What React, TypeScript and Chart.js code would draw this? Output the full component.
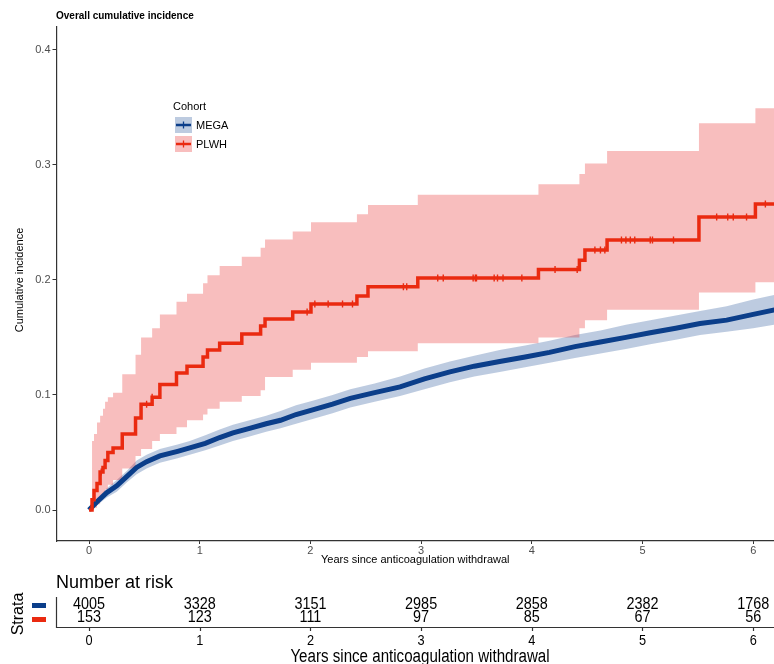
import React, { useEffect, useRef } from 'react';
import { Chart, registerables } from 'chart.js';

Chart.register(...registerables);

const FONT = '"Liberation Sans", Arial, Helvetica, sans-serif';

const TITLE = 'Overall cumulative incidence';
const Y_TITLE = 'Cumulative incidence';
const X_TITLE = 'Years since anticoagulation withdrawal';
const LEGEND_TITLE = 'Cohort';
const SERIES_NAMES = ['MEGA', 'PLWH'];

const X_TICKS = [0, 1, 2, 3, 4, 5, 6];
const Y_TICKS = [0, 0.1, 0.2, 0.3, 0.4];

// PLWH cumulative incidence (step function) with confidence band
const plwhTime = [0, 0.027, 0.045, 0.072, 0.1, 0.126, 0.145, 0.17, 0.217, 0.3, 0.42, 0.47, 0.57, 0.64, 0.79, 0.885, 1.03, 1.07, 1.18, 1.38, 1.55, 1.59, 1.84, 2.005, 2.42, 2.52, 2.97, 4.06, 4.43, 4.48, 4.68, 5.51, 6.02, 6.25];
const plwhEst = [0, 0.009, 0.017, 0.023, 0.033, 0.037, 0.043, 0.05, 0.054, 0.066, 0.08, 0.092, 0.098, 0.109, 0.119, 0.125, 0.133, 0.139, 0.145, 0.153, 0.16, 0.166, 0.172, 0.179, 0.186, 0.194, 0.2016, 0.209, 0.217, 0.226, 0.2346, 0.2546, 0.266, 0.266];
const plwhLower = [0, 0, 0.002, 0.005, 0.01, 0.013, 0.018, 0.022, 0.026, 0.036, 0.047, 0.053, 0.06, 0.066, 0.072, 0.078, 0.083, 0.088, 0.094, 0.099, 0.104, 0.1156, 0.122, 0.128, 0.133, 0.138, 0.145, 0.15, 0.158, 0.165, 0.174, 0.189, 0.198, 0.198];
const plwhUpper = [0, 0.06, 0.066, 0.076, 0.082, 0.088, 0.094, 0.098, 0.102, 0.118, 0.135, 0.15, 0.158, 0.17, 0.181, 0.188, 0.197, 0.204, 0.212, 0.22, 0.228, 0.235, 0.242, 0.25, 0.257, 0.265, 0.274, 0.283, 0.292, 0.301, 0.312, 0.336, 0.349, 0.349];
const plwhCensor = [0.11, 0.52, 0.57, 1.97, 2.04, 2.16, 2.29, 2.38, 2.84, 2.87, 3.15, 3.2, 3.47, 3.49, 3.5, 3.66, 3.69, 3.74, 3.91, 4.21, 4.41, 4.57, 4.62, 4.66, 4.81, 4.85, 4.89, 4.93, 5.07, 5.09, 5.28, 5.67, 5.77, 5.82, 5.94, 6.11];

// MEGA cumulative incidence with confidence band
const megaTime = [0, 0.07, 0.16, 0.25, 0.34, 0.43, 0.52, 0.64, 0.8, 0.91, 1.05, 1.18, 1.3, 1.45, 1.6, 1.73, 1.87, 2.02, 2.2, 2.36, 2.58, 2.81, 3.03, 3.26, 3.48, 3.71, 3.94, 4.16, 4.39, 4.62, 4.85, 5.07, 5.3, 5.52, 5.76, 6.0, 6.25];
const megaEst = [0, 0.007, 0.015, 0.021, 0.029, 0.037, 0.042, 0.047, 0.051, 0.054, 0.058, 0.063, 0.067, 0.071, 0.075, 0.078, 0.083, 0.087, 0.092, 0.097, 0.102, 0.107, 0.114, 0.12, 0.125, 0.129, 0.133, 0.137, 0.142, 0.146, 0.15, 0.154, 0.158, 0.162, 0.165, 0.17, 0.175];
const megaLower = [0, 0.004, 0.011, 0.016, 0.024, 0.031, 0.036, 0.041, 0.045, 0.048, 0.052, 0.056, 0.06, 0.064, 0.068, 0.071, 0.075, 0.079, 0.084, 0.089, 0.094, 0.099, 0.105, 0.111, 0.116, 0.12, 0.124, 0.128, 0.132, 0.136, 0.14, 0.144, 0.148, 0.152, 0.155, 0.158, 0.162];
const megaUpper = [0, 0.01, 0.019, 0.026, 0.034, 0.043, 0.048, 0.053, 0.057, 0.06, 0.065, 0.07, 0.074, 0.078, 0.082, 0.086, 0.091, 0.095, 0.1, 0.105, 0.11, 0.116, 0.123, 0.129, 0.134, 0.139, 0.143, 0.147, 0.152, 0.156, 0.161, 0.165, 0.169, 0.173, 0.177, 0.183, 0.188];

// Number at risk table
const riskTimes = [0, 1, 2, 3, 4, 5, 6];
const megaRisk = [4005, 3328, 3151, 2985, 2858, 2382, 1768];
const plwhRisk = [153, 123, 111, 97, 85, 67, 56];
const RISK_TITLE = 'Number at risk';
const STRATA_LABEL = 'Strata';

const MEGA_COLOR = '#0B3E8A';
const PLWH_COLOR = '#EA2A10';
const MEGA_BAND = 'rgba(11,61,140,0.27)';
const PLWH_BAND = 'rgba(232,30,30,0.29)';

const pts = (t: number[], v: number[]) => t.map((x, i) => ({ x, y: v[i] }));
const stepAt = (t: number[], v: number[], at: number) => {
  let r = v[0];
  for (let i = 0; i < t.length; i++) if (t[i] <= at) r = v[i];
  return r;
};

function squeezeText(ctx: CanvasRenderingContext2D, text: string, x: number, y: number, sx: number) {
  ctx.save();
  ctx.translate(x, y);
  ctx.scale(sx, 1);
  ctx.fillText(text, 0, 0);
  ctx.restore();
}

const decorPlugin = {
  id: 'decor',
  afterDraw(chart: any) {
    const ctx: CanvasRenderingContext2D = chart.ctx;
    const xs = chart.scales.x;
    const area = chart.chartArea;
    ctx.save();
    ctx.fillStyle = '#000';
    ctx.textBaseline = 'middle';

    // Title
    ctx.font = `bold 10px ${FONT}`;
    ctx.textAlign = 'left';
    ctx.fillText(TITLE, 56, 16);

    // Y title
    ctx.save();
    ctx.translate(20, 280);
    ctx.rotate(-Math.PI / 2);
    ctx.font = `11px ${FONT}`;
    ctx.textAlign = 'center';
    ctx.fillText(Y_TITLE, 0, 0);
    ctx.restore();

    // X title
    ctx.font = `11px ${FONT}`;
    ctx.textAlign = 'center';
    ctx.fillText(X_TITLE, (area.left + area.right) / 2, 560);

    // Legend
    ctx.textAlign = 'left';
    ctx.font = `11px ${FONT}`;
    ctx.fillText(LEGEND_TITLE, 173, 107);
    const keys = [
      { y: 117, band: MEGA_BAND, col: MEGA_COLOR },
      { y: 136, band: PLWH_BAND, col: PLWH_COLOR },
    ];
    keys.forEach((k, i) => {
      ctx.fillStyle = k.band;
      ctx.fillRect(175, k.y, 17, 16);
      ctx.strokeStyle = k.col;
      ctx.lineWidth = 2.5;
      ctx.beginPath();
      ctx.moveTo(176, k.y + 8);
      ctx.lineTo(191, k.y + 8);
      ctx.stroke();
      ctx.lineWidth = 1.3;
      ctx.beginPath();
      ctx.moveTo(183.5, k.y + 4.5);
      ctx.lineTo(183.5, k.y + 11.5);
      ctx.stroke();
      ctx.fillStyle = '#000';
      ctx.fillText(SERIES_NAMES[i], 196, k.y + 8.5);
    });

    // Risk table
    ctx.fillStyle = '#000';
    ctx.font = `18px ${FONT}`;
    ctx.textAlign = 'left';
    ctx.fillText(RISK_TITLE, 56, 583);

    ctx.save();
    ctx.translate(19, 614);
    ctx.rotate(-Math.PI / 2);
    ctx.font = `16px ${FONT}`;
    ctx.textAlign = 'center';
    ctx.fillText(STRATA_LABEL, 0, 0);
    ctx.restore();

    ctx.fillStyle = MEGA_COLOR;
    ctx.fillRect(32, 603, 14, 5);
    ctx.fillStyle = PLWH_COLOR;
    ctx.fillRect(32, 617, 14, 5);

    ctx.fillStyle = '#000';
    ctx.textAlign = 'center';
    ctx.font = `16px ${FONT}`;
    riskTimes.forEach((t, i) => {
      const px = xs.getPixelForValue(t);
      squeezeText(ctx, String(megaRisk[i]), px, 605, 0.9);
      squeezeText(ctx, String(plwhRisk[i]), px, 618, 0.9);
    });

    ctx.strokeStyle = '#333';
    ctx.lineWidth = 1.2;
    ctx.beginPath();
    ctx.moveTo(56.5, 597);
    ctx.lineTo(56.5, 627.5);
    ctx.lineTo(774, 627.5);
    ctx.stroke();
    riskTimes.forEach((t) => {
      const px = Math.round(xs.getPixelForValue(t)) + 0.5;
      ctx.beginPath();
      ctx.moveTo(px, 627.5);
      ctx.lineTo(px, 631);
      ctx.stroke();
    });
    ctx.font = `15px ${FONT}`;
    riskTimes.forEach((t) => {
      squeezeText(ctx, String(t), xs.getPixelForValue(t), 641, 0.85);
    });
    ctx.font = `18px ${FONT}`;
    squeezeText(ctx, X_TITLE, 420, 657, 0.84);

    ctx.restore();
  },
};

export default function App() {
  const ref = useRef<HTMLCanvasElement | null>(null);

  useEffect(() => {
    if (!ref.current) return;
    const chart = new Chart(ref.current, {
      type: 'line',
      data: {
        datasets: [
          {
            label: 'PLWH censored',
            data: plwhCensor.map((t) => ({ x: t, y: stepAt(plwhTime, plwhEst, t) })),
            showLine: false,
            pointStyle: 'line',
            rotation: 90,
            pointRadius: 3.5,
            pointBorderWidth: 1.4,
            borderColor: PLWH_COLOR,
            backgroundColor: PLWH_COLOR,
            order: 0,
          },
          {
            label: 'PLWH',
            data: pts(plwhTime, plwhEst),
            stepped: 'before',
            borderColor: PLWH_COLOR,
            borderWidth: 3.5,
            pointRadius: 0,
            fill: false,
            order: 1,
          },
          {
            label: 'MEGA',
            data: pts(megaTime, megaEst),
            borderColor: MEGA_COLOR,
            borderWidth: 5,
            pointRadius: 0,
            tension: 0,
            fill: false,
            order: 2,
          },
          {
            label: 'PLWH upper',
            data: pts(plwhTime, plwhUpper),
            stepped: 'before',
            borderWidth: 0,
            borderColor: 'rgba(0,0,0,0)',
            backgroundColor: PLWH_BAND,
            pointRadius: 0,
            fill: '+1',
            order: 3,
          },
          {
            label: 'PLWH lower',
            data: pts(plwhTime, plwhLower),
            stepped: 'before',
            borderWidth: 0,
            borderColor: 'rgba(0,0,0,0)',
            pointRadius: 0,
            fill: false,
            order: 4,
          },
          {
            label: 'MEGA upper',
            data: pts(megaTime, megaUpper),
            borderWidth: 0,
            borderColor: 'rgba(0,0,0,0)',
            backgroundColor: MEGA_BAND,
            pointRadius: 0,
            fill: '+1',
            order: 5,
          },
          {
            label: 'MEGA lower',
            data: pts(megaTime, megaLower),
            borderWidth: 0,
            borderColor: 'rgba(0,0,0,0)',
            pointRadius: 0,
            fill: false,
            order: 6,
          },
        ],
      },
      options: {
        animation: false,
        responsive: false,
        devicePixelRatio: 1,
        layout: { autoPadding: false, padding: { top: 27, left: 0, right: 0, bottom: 0 } },
        plugins: { legend: { display: false }, tooltip: { enabled: false }, title: { display: false } },
        scales: {
          x: {
            type: 'linear',
            min: -0.294,
            max: 6.188,
            afterFit: (s: any) => {
              s.height = 123;
            },
            afterBuildTicks: (s: any) => {
              s.ticks = X_TICKS.map((v) => ({ value: v }));
            },
            grid: { drawOnChartArea: false, drawTicks: true, tickLength: 3, color: '#333', lineWidth: 1 },
            border: { display: true, color: '#333', width: 1.2 },
            ticks: {
              font: { family: FONT, size: 11 },
              color: '#4D4D4D',
              padding: 0,
              maxRotation: 0,
              callback: (v: any) => String(v),
            },
          },
          y: {
            type: 'linear',
            min: -0.0269,
            max: 0.4197,
            afterFit: (s: any) => {
              s.width = 56.5;
            },
            afterBuildTicks: (s: any) => {
              s.ticks = Y_TICKS.map((v) => ({ value: v }));
            },
            grid: { drawOnChartArea: false, drawTicks: true, tickLength: 4, color: '#333', lineWidth: 1 },
            border: { display: true, color: '#333', width: 1.2 },
            ticks: {
              font: { family: FONT, size: 11 },
              color: '#4D4D4D',
              padding: 2,
              callback: (v: any) => Number(v).toFixed(1),
            },
          },
        },
      },
      plugins: [decorPlugin],
    });
    return () => chart.destroy();
  }, []);

  return (
    <div style={{ position: 'absolute', left: 0, top: 0, width: 774, height: 664, background: '#fff' }}>
      <canvas ref={ref} width={774} height={664} style={{ display: 'block', width: 774, height: 664 }} />
    </div>
  );
}
